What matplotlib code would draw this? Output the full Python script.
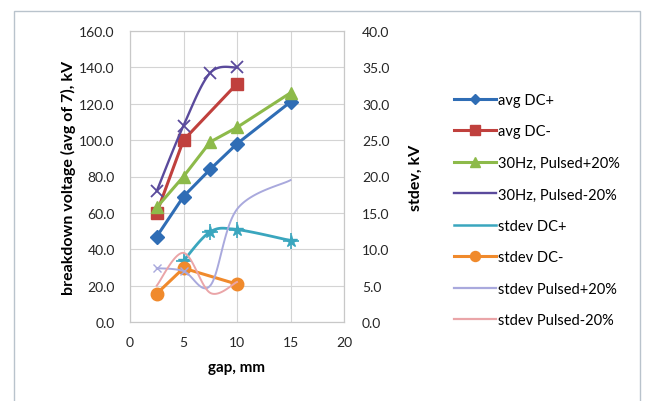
import numpy as np
import matplotlib
matplotlib.use("Agg")
import matplotlib.pyplot as plt
from matplotlib.patches import Rectangle
from matplotlib.lines import Line2D

plt.rcParams['font.family'] = ['Lato', 'DejaVu Sans']

# ---- data ----
gap_dcp = [2.5, 5, 7.5, 10, 15]
avg_dcp = [47, 69, 84, 98, 121]
gap_dcm = [2.5, 5, 10]
avg_dcm = [60, 100, 131]
gap_pp = [2.5, 5, 7.5, 10, 15]
avg_pp = [63, 80, 99, 107, 126]
gap_pm = [2.5, 5, 7.5, 10]
avg_pm = [72, 108, 137, 140]

gap_sdcp = [5, 7.5, 10, 15]
std_dcp = [8.4, 12.4, 12.7, 11.2]
gap_sdcm = [2.5, 5, 10]
std_dcm = [3.9, 7.4, 5.2]
gap_spp = [2.5, 5, 7.5, 10, 15]
std_pp = [7.4, 7.0, 5.0, 15.5, 19.5]
gap_spm = [2.5, 5, 7.5, 10]
std_pm = [5.0, 9.5, 4.0, 5.5]

labels = ["avg DC+", "avg DC-", "30Hz, Pulsed+20%", "30Hz, Pulsed-20%",
          "stdev DC+", "stdev DC-", "stdev Pulsed+20%", "stdev Pulsed-20%"]
left_ticks = np.arange(0, 161, 20)
right_ticks = np.arange(0, 40.1, 5)
x_ticks = np.arange(0, 21, 5)


def smooth(x, y, n=30):
    """Excel-like smoothed line (Catmull-Rom through the points)."""
    x = np.asarray(x, float); y = np.asarray(y, float)
    if len(x) < 3:
        return x, y
    P = np.column_stack([x, y])
    P = np.vstack([P[0], P, P[-1]])
    out = []
    for i in range(1, len(P) - 2):
        p0, p1, p2, p3 = P[i - 1], P[i], P[i + 1], P[i + 2]
        t = np.linspace(0, 1, n)[:, None]
        c = 0.5 * ((2 * p1) + (-p0 + p2) * t + (2 * p0 - 5 * p1 + 4 * p2 - p3) * t ** 2
                   + (-p0 + 3 * p1 - 3 * p2 + p3) * t ** 3)
        out.append(c if i == 1 else c[1:])
    c = np.vstack(out)
    return c[:, 0], c[:, 1]


fig = plt.figure(figsize=(6.55, 4.02), dpi=100)
fig.patches.append(Rectangle((14 / 655, -0.01), 626 / 655, 1 - 12 / 402 + 0.01,
                             transform=fig.transFigure, fill=False,
                             edgecolor="#B9C3CC", linewidth=1.0))
ax = fig.add_axes([130 / 655, 1 - 323 / 402, 214 / 655, 291 / 402])
ax2 = ax.twinx()

c_blue = "#2F6DB5"
c_red = "#C0403D"
c_green = "#8DBA4A"
c_purple = "#5A4A9C"
c_cyan = "#3AA6BE"
c_orange = "#F08A2C"
c_lav = "#A9A9DD"
c_pink = "#EAA5A8"

h = []
h += ax.plot(gap_dcp, avg_dcp, color=c_blue, lw=2.2, marker="D", ms=7,
             label=labels[0], zorder=3)
h += ax.plot(gap_dcm, avg_dcm, color=c_red, lw=2.2, marker="s", ms=9,
             label=labels[1], zorder=3)
h += ax.plot(gap_pp, avg_pp, color=c_green, lw=2.2, marker="^", ms=9,
             label=labels[2], zorder=3)
sx, sy = smooth(gap_pm, avg_pm)
ax.plot(sx, sy, color=c_purple, lw=1.7, zorder=3)
ax.plot(gap_pm, avg_pm, ls="none", color=c_purple, marker="x", ms=9, mew=1.3, zorder=3)
h.append(Line2D([], [], color=c_purple, lw=1.7, label=labels[3]))

sx, sy = smooth(gap_sdcp, std_dcp)
ax2.plot(sx, sy, color=c_cyan, lw=2.0, zorder=3)
ax2.plot(gap_sdcp, std_dcp, ls="none", color=c_cyan, marker="*", ms=9, zorder=3)
ax2.plot(gap_sdcp, std_dcp, ls="none", color=c_cyan, marker="+", ms=11, mew=1.2, zorder=3)
h.append(Line2D([], [], color=c_cyan, lw=1.8, label=labels[4]))
h += ax2.plot(gap_sdcm, std_dcm, color=c_orange, lw=2.2, marker="o", ms=9,
              label=labels[5], zorder=3)
sx, sy = smooth(gap_spp, std_pp)
ax2.plot(sx, sy, color=c_lav, lw=1.4, zorder=3)
ax2.plot(gap_spp[:2], std_pp[:2], ls="none", color=c_lav, marker="x", ms=6, zorder=3)
h.append(Line2D([], [], color=c_lav, lw=1.6, label=labels[6]))
sx, sy = smooth(gap_spm, std_pm)
ax2.plot(sx, sy, color=c_pink, lw=1.4, zorder=3)
h.append(Line2D([], [], color=c_pink, lw=1.6, label=labels[7]))

for a in (ax, ax2):
    for s in a.spines.values():
        s.set_color("#C8C8C8")
        s.set_linewidth(0.8)
    a.tick_params(length=0, labelsize=10, colors="#262626")

ax.set_xlim(0, 20)
ax.set_ylim(0, 160)
ax2.set_ylim(0, 40)
ax.set_xticks(x_ticks)
ax.set_yticks(left_ticks)
ax.set_yticklabels([f"{v:.1f}" for v in left_ticks])
ax2.set_yticks(right_ticks)
ax2.set_yticklabels([f"{v:.1f}" for v in right_ticks])
ax.tick_params(axis="y", pad=11)
ax2.tick_params(axis="y", pad=13)
ax.tick_params(axis="x", pad=10)
ax.grid(True, color="#D4D4D4", lw=0.8)
ax.set_axisbelow(True)

ax.set_ylabel("breakdown voltage (avg of 7), kV", fontsize=11.5, fontweight="bold",
              labelpad=2)
ax2.set_ylabel("stdev, kV", fontsize=11.5, fontweight="bold", labelpad=14)
ax.set_xlabel("gap, mm", fontsize=11, fontweight="bold", labelpad=9)

fig.legend(handles=h, loc="upper left", bbox_to_anchor=(454 / 655, 1 - 94 / 402),
           frameon=False, fontsize=10.5, handlelength=2.9, handletextpad=0.1,
           labelspacing=1.2, borderpad=0, borderaxespad=0, markerscale=0.8)

fig.savefig("out.png", dpi=100)
